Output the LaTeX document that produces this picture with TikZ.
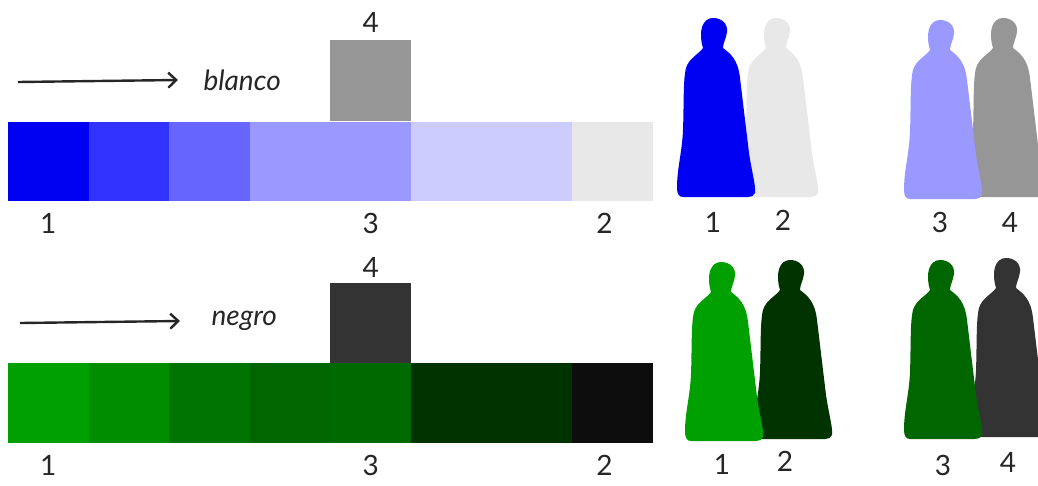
\documentclass[tikz,border=0pt]{standalone}
\usepackage{fontspec}
\setmainfont{Lato}
\usetikzlibrary{arrows.meta,positioning}
\definecolor{azulA}{HTML}{0000F2}
\definecolor{azulB}{HTML}{3333FF}
\definecolor{azulC}{HTML}{6666FF}
\definecolor{azulD}{HTML}{9999FF}
\definecolor{azulE}{HTML}{CCCCFF}
\definecolor{grisClaro}{HTML}{E8E8E8}
\definecolor{grisMedio}{HTML}{969696}
\definecolor{verdeA}{HTML}{00A000}
\definecolor{verdeB}{HTML}{008D00}
\definecolor{verdeC}{HTML}{007400}
\definecolor{verdeD}{HTML}{006600}
\definecolor{verdeE}{HTML}{006A00}
\definecolor{verdeF}{HTML}{003300}
\definecolor{casiNegro}{HTML}{0D0D0D}
\definecolor{grisOscuro}{HTML}{333333}

\tikzset{
  figura/.pic={
    \path[pic actions] (0,0) .. controls (8,0) and (15,5) .. (14,14)
      .. controls (13,21) and (10,25) .. (10,30)
      .. controls (18,36) and (25,42) .. (27,60)
      .. controls (30,85) and (33,110) .. (36,135)
      .. controls (39,155) and (43,168) .. (42,175)
      .. controls (41,178) and (38,179) .. (35,179)
      -- (-30,179)
      .. controls (-34,179) and (-36,176) .. (-36,170)
      .. controls (-36,150) and (-31,135) .. (-30,112)
      .. controls (-29,85) and (-30,62) .. (-27,50)
      .. controls (-24,40) and (-14,36) .. (-10,30)
      .. controls (-12,24) and (-13,15) .. (-11,9)
      .. controls (-9,3) and (-5,0) .. (0,0) -- cycle;
  }
}

\begin{document}
\begin{tikzpicture}[x=1pt, y=-1pt,
  every node/.style={font=\fontsize{28}{32}\selectfont},
  celda/.style={inner sep=0pt, minimum width=80.6pt, minimum height=79.5pt},
  num/.style={inner sep=0pt, text=black!85},
  palabra/.style={font=\fontsize{28}{32}\selectfont\itshape, text=black!85, anchor=west},
  flecha/.style={-{Straight Barb[length=8pt,width=15pt]}, line width=2.4pt, black!85}]
\useasboundingbox (0,0) rectangle (1038,485);

% escala hacia el blanco
\foreach \c [count=\i] in {azulA,azulB,azulC,azulD,azulD,azulE,azulE,grisClaro}
  \node[celda, fill=\c] (b\i) at ({8+80.6*(\i-0.5)},161.5) {};
\node[celda, fill=grisMedio, minimum height=81pt, above=0pt of b5] (bcaja) {};
\node[num, above=7pt of bcaja] {4};
\node[num, below=12pt of b1] {1};
\node[num, below=12pt of b5] {3};
\node[num, below=12pt of b8, xshift=-8pt] {2};
\coordinate (bini) at (18,82);
\node[palabra] (blanco) at (200,80) {blanco};
\draw[flecha] (bini) -- ([xshift=-22pt]blanco.west);

% escala hacia el negro
\foreach \c [count=\i] in {verdeA,verdeB,verdeC,verdeD,verdeE,verdeF,verdeF,casiNegro}
  \node[celda, fill=\c] (n\i) at ({8+80.6*(\i-0.5)},403) {};
\node[celda, fill=grisOscuro, minimum height=80pt, above=0pt of n5] (ncaja) {};
\node[num, above=5pt of ncaja] {4};
\node[num, below=12pt of n1] {1};
\node[num, below=12pt of n5] {3};
\node[num, below=12pt of n8, xshift=-8pt] {2};
\coordinate (nini) at (20,323);
\node[palabra] (negro) at (208,321) {negro};
\draw[flecha] (nini) -- ([xshift=-28pt]negro.west);

% figuras
\pic[fill=grisClaro] at (776,18) {figura};
\pic[fill=azulA] at (713,18) {figura};
\pic[fill=grisMedio] at (1003,18) {figura};
\pic[fill=azulD] at (940,20) {figura};
\pic[fill=verdeF] at (790,260) {figura};
\pic[fill=verdeA] at (721,262) {figura};
\pic[fill=grisOscuro] at (1006,258) {figura};
\pic[fill=verdeD] at (940,260) {figura};

\node[num] (f1) at (713,222) {1};
\node[num] (f2) at (783,220) {2};
\node[num] (f3) at (940,222) {3};
\node[num] (f4) at (1010,222) {4};
\node[num] (g1) at (722,464) {1};
\node[num] (g2) at (785,461) {2};
\node[num] (g3) at (943,465) {3};
\node[num] (g4) at (1008,462) {4};
\end{tikzpicture}
\end{document}
